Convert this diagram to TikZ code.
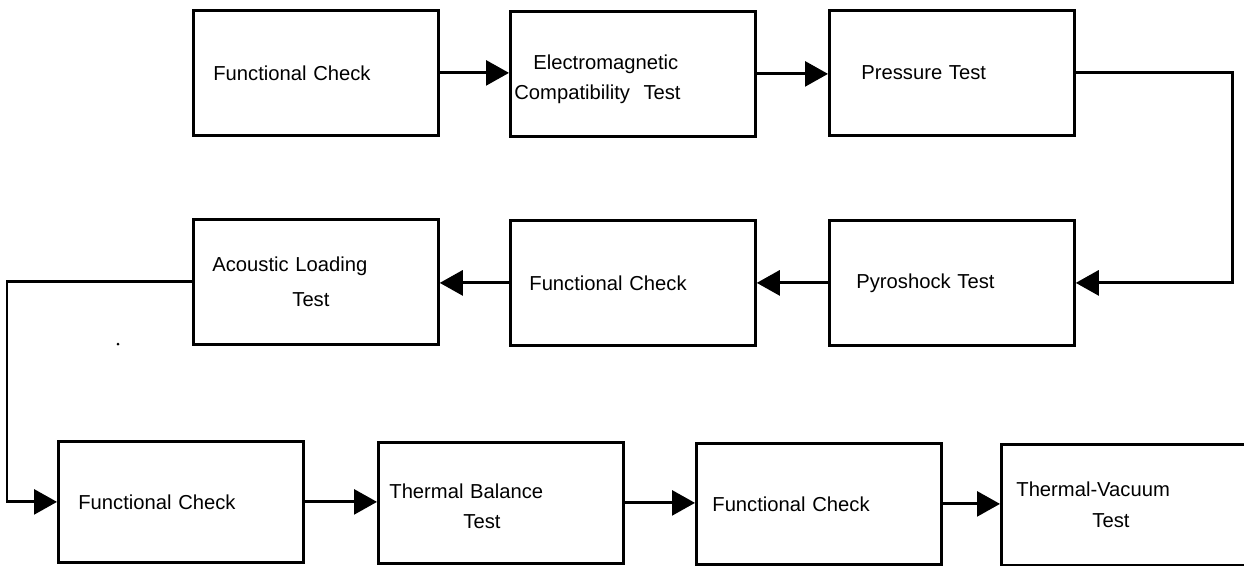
\documentclass[tikz,border=0pt]{standalone}
\usepackage{fontspec}
\usetikzlibrary{arrows.meta}
\newfontfamily\stagefont{Liberation Sans}
\tikzset{
>={Triangle[length=4.6mm,width=5mm]}, % All arrows with filled triangle tips
stage/.style={draw,rectangle,anchor=north west,minimum height=2.5cm,
  align=left,inner ysep=0pt,font=\stagefont\fontsize{11.5}{17.5}\selectfont},
low stage/.style={stage,minimum height=2.42cm},
flow/.style={->},
speck/.style={circle,fill,inner sep=0pt,minimum size=0.06cm}
}
\begin{document}
\begin{tikzpicture}[x=0.02cm,y=-0.02cm,line width=1.6pt]
\useasboundingbox (0,0) rectangle (1244,565);
% first row, left to right
\node[stage,text width=4.1cm,inner xsep=4mm]    (check1)   at (192,9)  {Functional Check};
\node[stage,text width=4.74cm,inner xsep=0.8mm] (emc)      at (509,10) {\rule{0pt}{1.25em}\hspace*{3.8mm}Electromagnetic\\Compatibility\ \ Test};
\node[stage,text width=3.62cm,inner xsep=6.4mm] (pressure) at (828,9)  {Pressure Test};
% second row, right to left
\node[stage,text width=4.14cm,inner xsep=3.8mm] (acoustic) at (192,218) {Acoustic Loading\\[2pt]\hspace*{16mm}Test};
\node[stage,text width=4.14cm,inner xsep=3.8mm] (check2)   at (509,219) {Functional Check};
\node[stage,text width=3.82cm,inner xsep=5.4mm] (pyro)     at (828,219) {Pyroshock Test};
\node[speck] (dot) at (118,344) {};
% third row, left to right
\node[low stage,text width=4.1cm,inner xsep=4mm]    (check3)  at (57,440)   {Functional Check};
\node[low stage,text width=4.46cm,inner xsep=2.2mm] (balance) at (377,441)  {\rule{0pt}{1.05em}Thermal Balance\\\hspace*{14.8mm}Test};
\node[low stage,text width=4.26cm,inner xsep=3.2mm] (check4)  at (695,442)  {Functional Check};
\node[low stage,text width=4.8cm,inner xsep=3mm]    (vacuum)  at (1000,443) {Thermal-Vacuum\\\hspace*{15.2mm}Test};
\draw[flow] (check1.east) -- (check1.east -| emc.west);
\draw[flow] (emc.east) -- (emc.east -| pressure.west);
\draw[flow] (pressure.east) -- ++(157,0) |- (pyro.east);
\draw[flow] (pyro.west) -- (pyro.west -| check2.east);
\draw[flow] (check2.west) -- (check2.west -| acoustic.east);
\draw[flow] (acoustic.west) -- ++(-185,0) |- (check3.west);
\draw[flow] (check3.east) -- (check3.east -| balance.west);
\draw[flow] (balance.east) -- (balance.east -| check4.west);
\draw[flow] (check4.east) -- (check4.east -| vacuum.west);
\end{tikzpicture}
\end{document}
